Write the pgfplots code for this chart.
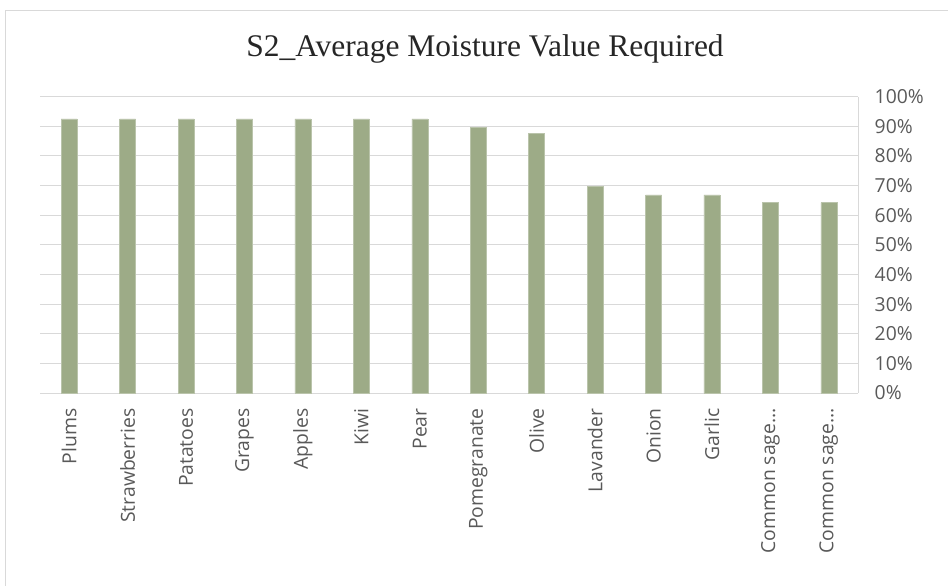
\documentclass[border=0pt]{standalone}
\usepackage{pgfplots}
\pgfplotsset{compat=1.18}
\usepackage{fontspec}
\setmainfont{Liberation Serif}
\newfontfamily\lblfont{Open Sans}
\definecolor{barfill}{RGB}{157,171,135}
\definecolor{gridc}{RGB}{217,217,217}
\definecolor{tickc}{RGB}{89,89,89}
\begin{document}
\begin{tikzpicture}
\useasboundingbox (0,0) rectangle (711pt,-438.75pt);
\draw[gridc, line width=0.75pt] (3.75pt,-450pt) -- (3.75pt,-8.25pt) -- (720pt,-8.25pt);
\node[font=\fontsize{23.6}{27}\selectfont, text=black!85] at (363.75pt,-36.5pt) {S2\_Average Moisture Value Required};
\begin{axis}[
  at={(30pt,-72.4pt)}, anchor=north west,
  scale only axis, width=613.5pt, height=222.4pt,
  xmin=-0.5, xmax=13.5, ymin=0, ymax=100,
  axis x line=bottom, axis y line=right,
  axis line style={-, draw=gridc, line width=0.75pt},
  ytick={0,10,...,100},
  yticklabel={\pgfmathprintnumber{\tick}\%},
  ymajorgrids, grid style={gridc, line width=0.75pt},
  major tick length=0pt,
  xtick={0,1,2,3,4,5,6,7,8,9,10,11,12,13},
  xticklabels={Plums,Strawberries,Patatoes,Grapes,Apples,Kiwi,Pear,Pomegranate,Olive,Lavander,Onion,Garlic,{Common sage…},{Common sage…}},
  xticklabel style={rotate=90, anchor=east, font=\lblfont\fontsize{14.5}{17}\selectfont, text=tickc, xshift=-8pt},
  yticklabel style={font=\lblfont\fontsize{14.5}{17}\selectfont, text=tickc, anchor=west, xshift=9pt},
  /pgf/number format/assume math mode=true,
]
\addplot[ybar, bar width=12pt, fill=barfill, draw=barfill!70!white, line width=0.4pt]
  coordinates {(0,92.5) (1,92.5) (2,92.5) (3,92.5) (4,92.5) (5,92.5) (6,92.5) (7,89.7) (8,87.7) (9,69.7) (10,66.8) (11,66.8) (12,64.2) (13,64.2)};
\end{axis}
\end{tikzpicture}
\end{document}
